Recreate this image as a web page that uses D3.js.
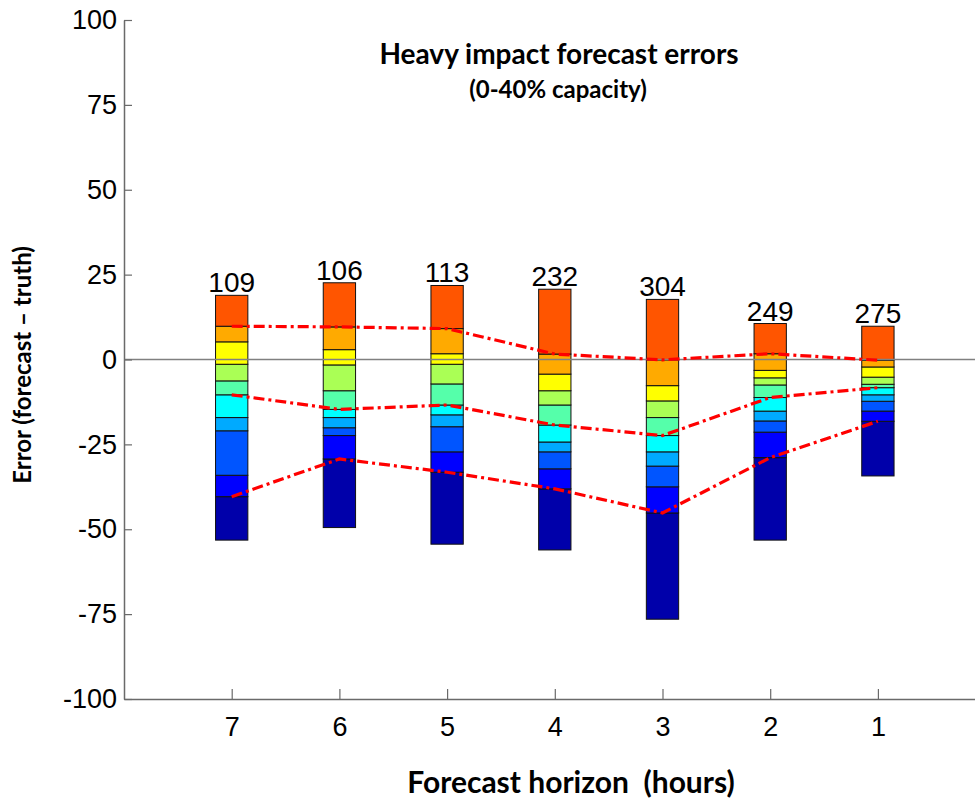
<!DOCTYPE html>
<html>
<head>
<meta charset="utf-8">
<script src="https://cdn.jsdelivr.net/npm/d3@7"></script>
<style>
  html, body { margin: 0; padding: 0; background: #fff; }
  svg { display: block; }
</style>
</head>
<body>
<svg id="chart" width="975" height="799"></svg>
<script>
// ---- data ----
const horizons = [7, 6, 5, 4, 3, 2, 1];
const counts = [109, 106, 113, 232, 304, 249, 275];
const percentileLevels = [0, 10, 20, 30, 40, 50, 60, 70, 80, 90, 100];
// error percentiles (0th .. 100th) for each forecast horizon
const errH7 = [-53.2, -40.4, -34.1, -21.0, -17.1, -10.4, -6.3, -1.4, 5.2, 9.8, 18.9];
const errH6 = [-49.5, -29.3, -22.4, -20.1, -17.1, -14.7, -9.2, -1.6, 2.9, 9.6, 22.6];
const errH5 = [-54.4, -33.2, -27.2, -19.8, -16.3, -13.4, -7.2, -1.4, 1.7, 9.1, 21.8];
const errH4 = [-56.1, -38.1, -32.2, -27.2, -24.3, -19.3, -13.4, -9.2, -4.3, 1.6, 20.7];
const errH3 = [-76.5, -45.2, -37.5, -31.4, -27.2, -22.4, -17.1, -12.2, -7.7, -0.1, 17.7];
const errH2 = [-53.2, -28.9, -21.4, -18.1, -15.2, -11.2, -7.5, -5.4, -3.2, 1.7, 10.6];
const errH1 = [-34.3, -18.2, -15.2, -12.3, -10.4, -8.3, -7.3, -5.2, -2.2, -0.2, 9.8];
const errors = [errH7, errH6, errH5, errH4, errH3, errH2, errH1];
const binColors = ["#0000AA", "#0000FF", "#0055FF", "#00AAFF", "#00FFFF",
                   "#55FFAA", "#AAFF55", "#FFFF00", "#FFAA00", "#FF5500"];
const highlightLevels = [10, 50, 90];
const yTicks = [-100, -75, -50, -25, 0, 25, 50, 75, 100];

// ---- layout ----
const svg = d3.select("#chart");
const x = d3.scaleLinear().domain([0, 8]).range([124, 985.6]);
const y = d3.scaleLinear().domain([-100, 100]).range([699, 20]);
const barW = x(0.3) - x(0);
const axisColor = "#6a6a6a";
const numFont = "'Liberation Sans', Arial, sans-serif";

// bars
const gBars = svg.append("g");
errors.forEach((vals, i) => {
  const cx = x(i + 1);
  const g = gBars.append("g");
  for (let k = 0; k < vals.length - 1; k++) {
    g.append("rect")
      .attr("x", cx - barW / 2)
      .attr("y", y(vals[k + 1]))
      .attr("width", barW)
      .attr("height", y(vals[k]) - y(vals[k + 1]))
      .attr("fill", binColors[k])
      .attr("stroke", "#111")
      .attr("stroke-width", 1);
  }
  g.append("text")
    .attr("x", cx)
    .attr("y", y(vals[vals.length - 1]) - 3)
    .attr("text-anchor", "middle")
    .attr("font-family", numFont)
    .attr("font-size", 28)
    .attr("fill", "#000")
    .text(counts[i]);
});

// zero line
svg.append("line")
  .attr("x1", x(0)).attr("x2", x(8))
  .attr("y1", y(0)).attr("y2", y(0))
  .attr("stroke", "#808080").attr("stroke-width", 1.5);

// percentile lines
const line = d3.line().x(d => d[0]).y(d => d[1]);
highlightLevels.forEach(p => {
  const idx = percentileLevels.indexOf(p);
  const pts = errors.map((vals, i) => [x(i + 1), y(vals[idx])]);
  svg.append("path")
    .attr("d", line(pts))
    .attr("fill", "none")
    .attr("stroke", "#FF0000")
    .attr("stroke-width", 3.2)
    .attr("stroke-dasharray", "11,4,3,4");
});

// axes
const yAxis = d3.axisLeft(y).tickValues(yTicks).tickFormat(d => String(d))
  .tickSizeInner(-8).tickSizeOuter(0).tickPadding(7);
const gy = svg.append("g").attr("transform", `translate(${x(0)},0)`).call(yAxis);
gy.selectAll("text").attr("font-family", numFont).attr("font-size", 27).attr("fill", "#000");

const xAxis = d3.axisBottom(x).tickValues(horizons.map((h, i) => i + 1))
  .tickFormat((d) => String(horizons[d - 1])).tickSizeInner(-10).tickSizeOuter(0).tickPadding(18);
const gx = svg.append("g").attr("transform", `translate(0,${y(-100)})`).call(xAxis);
gx.selectAll("text").attr("font-family", numFont).attr("font-size", 27).attr("fill", "#000");

[gx, gy].forEach(g => {
  g.select(".domain").attr("stroke", axisColor).attr("stroke-width", 1.5);
  g.selectAll(".tick line").attr("stroke", axisColor).attr("stroke-width", 1.2);
});

// titles
const bold = "Lato, 'Open Sans', sans-serif";
svg.append("text").attr("x", 559).attr("y", 64).attr("text-anchor", "middle")
  .attr("font-family", bold).attr("font-weight", "bold").attr("font-size", 28)
  .text("Heavy impact forecast errors");
svg.append("text").attr("x", 558).attr("y", 98).attr("text-anchor", "middle")
  .attr("font-family", bold).attr("font-weight", "bold").attr("font-size", 24)
  .text("(0-40% capacity)");
svg.append("text").attr("x", 571).attr("y", 793).attr("text-anchor", "middle")
  .attr("font-family", bold).attr("font-weight", "bold").attr("font-size", 30)
  .attr("xml:space", "preserve").style("white-space", "pre")
  .text("Forecast horizon  (hours)");
svg.append("text").attr("transform", "translate(31,365) rotate(-90)").attr("text-anchor", "middle")
  .attr("font-family", bold).attr("font-weight", "bold").attr("font-size", 24)
  .text("Error (forecast \u2013 truth)");
</script>
</body>
</html>
